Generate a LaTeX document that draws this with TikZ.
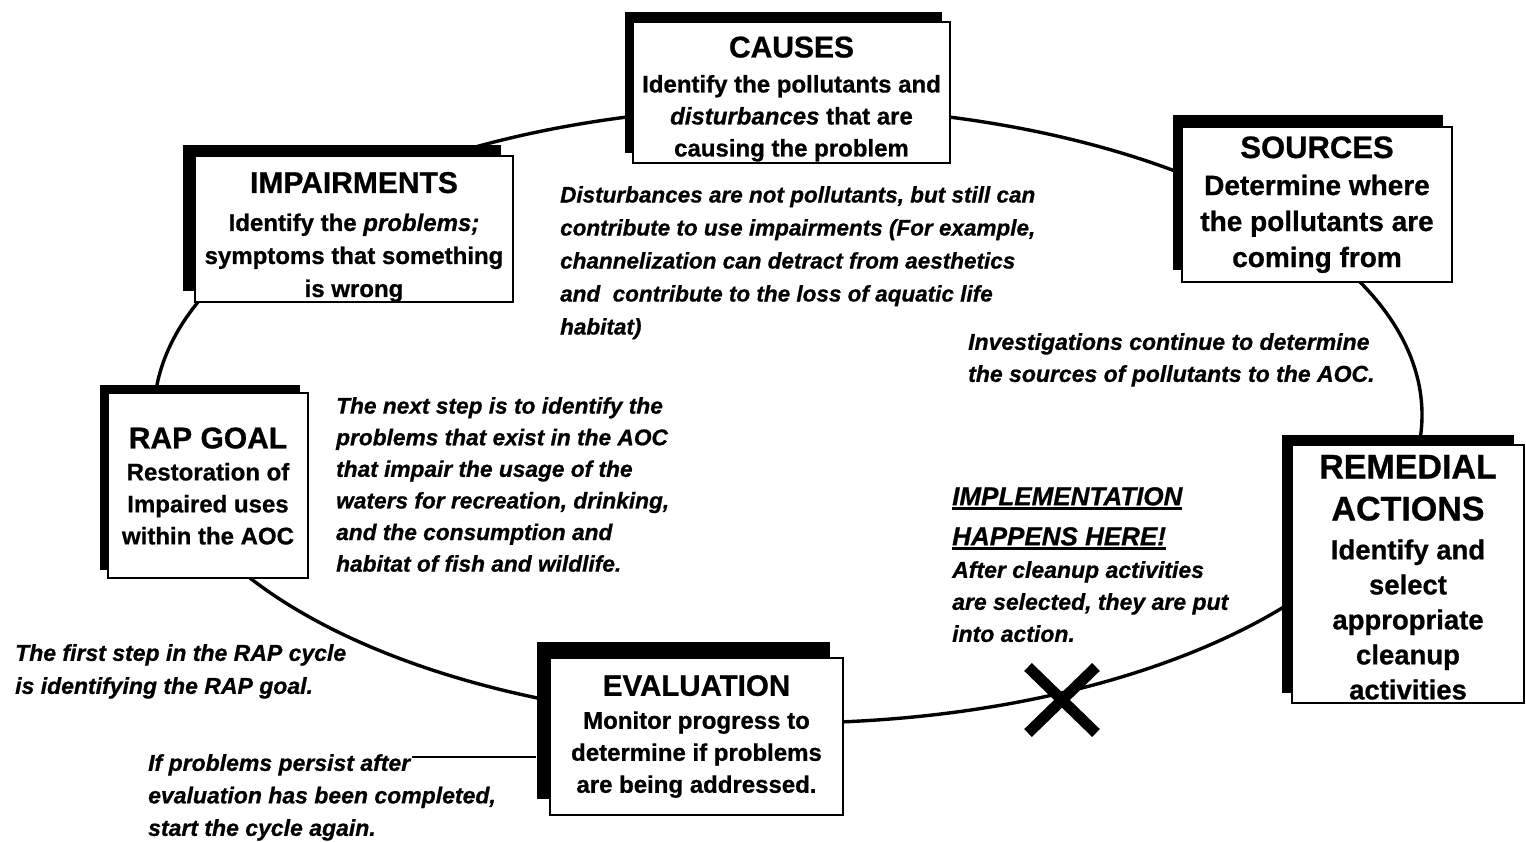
\documentclass[tikz,border=0pt]{standalone}
\usepackage{fontspec}
\setmainfont{Liberation Sans}[
  BoldFeatures={FakeBold=0.8},
  BoldItalicFeatures={FakeBold=0.8}]
\usetikzlibrary{shadows}
\newsavebox\ulsave
% heavy underline for the emphasised heading
\newcommand\fatul[1]{\sbox\ulsave{#1}\rlap{\rule[-4.5pt]{\wd\ulsave}{2.6pt}}\usebox\ulsave}
% stage heading: size, strut height above the line, text
\newcommand\ttl[3]{{\fontsize{#1}{#1}\selectfont\rule{0pt}{#2}#3}}

\begin{document}
\begin{tikzpicture}[x=1pt,y=-1pt,
  stage/.style n args={4}{draw, line width=2.4pt, fill=white, align=center,
    inner sep=0pt, minimum width=#1, minimum height=#2,
    general shadow={fill=black, shadow xshift=-#3, shadow yshift=#4}},
  note/.style={anchor=north west, align=left, inner sep=0pt,
    font=\bfseries\itshape\fontsize{23}{33}\selectfont},
  cycleline/.style={line width=3.4pt},
]
\useasboundingbox (0,0) rectangle (1526,842);
\fill[white] (0,0) rectangle (1526,842);

% the RAP cycle
\coordinate (hub) at (788,415);
\draw[cycleline] (hub) ellipse [x radius=634pt, y radius=308pt];

% stages of the cycle
\node[stage={317pt}{141pt}{8pt}{10pt}, font=\bfseries\fontsize{24}{32}\selectfont]
  (causes) at (791.5,92.5)
  {\ttl{30}{34pt}{CAUSES}\\[3pt]
   Identify the pollutants and\\
   \textit{disturbances} that are\\
   causing the problem};

\node[stage={270pt}{155pt}{9pt}{12pt}, font=\bfseries\fontsize{28}{36}\selectfont]
  (sources) at (1317,204.5)
  {\ttl{31}{22pt}{SOURCES}\\[1pt]
   Determine where\\
   the pollutants are\\
   coming from};

\node[stage={318pt}{142pt}{12pt}{11pt}, font=\bfseries\fontsize{24}{33}\selectfont]
  (impair) at (354,229)
  {\ttl{30}{37pt}{IMPAIRMENTS}\\[5pt]
   Identify the \textit{problems;}\\
   symptoms that something\\
   is wrong};

\node[stage={200pt}{185pt}{8pt}{8pt}, font=\bfseries\fontsize{24}{32}\selectfont]
  (goal) at (208,485.5)
  {\ttl{30}{22pt}{RAP GOAL}\\[0pt]
   Restoration of\\
   Impaired uses\\
   within the AOC};

\node[stage={293pt}{157pt}{13pt}{16pt}, font=\bfseries\fontsize{24}{32}\selectfont]
  (evaluation) at (696.5,736.5)
  {\ttl{29.5}{18pt}{EVALUATION}\\[1pt]
   Monitor progress to\\
   determine if problems\\
   are being addressed.};

\node[stage={232pt}{258pt}{10pt}{10pt}, font=\bfseries\fontsize{27.5}{35}\selectfont]
  (remedial) at (1408,574)
  {\ttl{34}{30pt}{REMEDIAL}\\[7pt]
   \ttl{34}{24pt}{ACTIONS}\\[4pt]
   Identify and\\
   select\\
   appropriate\\
   cleanup\\
   activities};

% explanatory notes
\node[note, font=\bfseries\itshape\fontsize{22.5}{33}\selectfont] (disturb) at (560,186)
  {Disturbances are not pollutants, but still can\\
   contribute to use impairments (For example,\\
   channelization can detract from aesthetics\\
   and\ \ contribute to the loss of aquatic life\\
   habitat)};

\node[note, font=\bfseries\itshape\fontsize{23}{32}\selectfont] (invest) at (968,333)
  {Investigations continue to determine\\
   the sources of pollutants to the AOC.};

\node[note, font=\bfseries\itshape\fontsize{22.7}{31.6}\selectfont] (nextstep) at (336,397)
  {The next step is to identify the\\
   problems that exist in the AOC\\
   that impair the usage of the\\
   waters for recreation, drinking,\\
   and the consumption and\\
   habitat of fish and wildlife.};

\node[note, font=\bfseries\itshape\fontsize{26}{40}\selectfont] (implement) at (952,487)
  {\fatul{IMPLEMENTATION}\\
   \fatul{HAPPENS HERE!}};

\node[note, font=\bfseries\itshape\fontsize{23}{32}\selectfont] (afterclean) at (952,561)
  {After cleanup activities\\
   are selected, they are put\\
   into action.};

\node[note] (firststep) at (15,644)
  {The first step in the RAP cycle\\
   is identifying the RAP goal.};

\node[note, font=\bfseries\itshape\fontsize{23}{32.5}\selectfont] (persist) at (148,754)
  {If problems persist after\\
   evaluation has been completed,\\
   start the cycle again.};

% pointer from the restart note to the evaluation stage
\coordinate (persistEnd) at (412,757);
\draw[line width=2.4pt, shorten >=13pt] (persistEnd) -- (persistEnd -| evaluation.west);

% cross on the cycle where implementation takes place
\coordinate (xmark) at (1062,700);
\draw[line width=11pt] (xmark) ++(-34,-33) -- ++(68,66);
\draw[line width=11pt] (xmark) ++(34,-33) -- ++(-68,66);
\end{tikzpicture}
\end{document}
